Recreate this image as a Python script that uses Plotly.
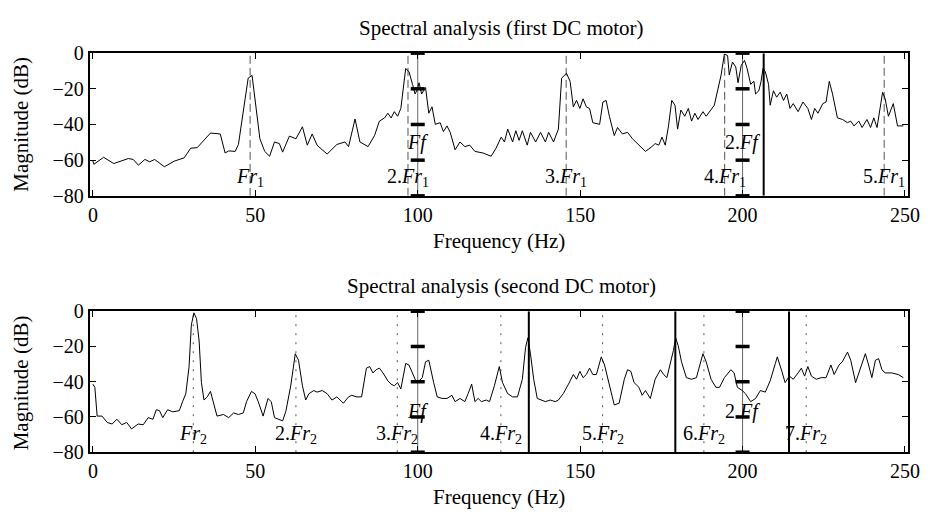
import plotly.graph_objects as go

# ---------------- data ----------------
top_freq = [0.0, 0.3, 3.3, 6.4, 10.9, 12.4, 14.0, 16.0, 17.5, 19.0, 22.0, 25.1, 28.1, 30.1, 32.1,
            36.2, 39.2, 40.7, 41.8, 43.8, 44.8, 46.3, 47.8, 49.0, 49.8, 51.4, 52.9, 54.4, 55.9,
            57.4, 58.4, 60.5, 62.5, 64.5, 66.0, 67.5, 69.0, 72.1, 75.1, 77.6, 78.7, 80.7, 82.2,
            84.7, 86.7, 88.2, 89.8, 90.8, 91.8, 92.8, 93.8, 94.8, 96.3, 97.3, 98.4, 99.2, 99.9,
            100.4, 101.2, 102.4, 103.4, 104.4, 105.4, 106.9, 107.9, 109.0, 110.0, 111.5, 113.0,
            114.5, 116.0, 117.6, 120.1, 122.6, 124.1, 125.7, 126.7, 127.7, 129.2, 130.2, 131.2,
            132.2, 133.7, 134.7, 136.3, 137.8, 139.3, 140.3, 141.8, 143.3, 144.3, 145.8, 146.9,
            147.9, 148.9, 149.9, 150.9, 151.9, 152.9, 153.9, 156.0, 157.0, 158.0, 159.0, 160.5,
            161.5, 163.0, 164.6, 166.1, 168.1, 170.1, 172.1, 173.1, 174.2, 175.2, 176.2, 177.2,
            178.2, 179.2, 180.0, 181.0, 182.2, 183.3, 184.3, 185.3, 186.3, 187.8, 188.8, 191.3,
            193.4, 194.4, 195.4, 195.9, 196.9, 197.9, 198.6, 199.6, 200.6, 201.4, 202.5, 203.5,
            204.0, 205.0, 205.7, 206.3, 207.0, 208.0, 208.5, 209.5, 210.5, 211.6, 212.6, 213.6,
            214.6, 215.6, 217.1, 218.6, 220.1, 221.2, 222.2, 223.2, 224.7, 225.7, 226.7, 227.7,
            229.2, 230.8, 232.3, 233.3, 234.3, 235.8, 236.8, 238.3, 239.4, 240.4, 241.4, 242.4,
            243.1, 243.9, 244.9, 246.4, 247.7, 249.5]
top_mag = [-60.5, -62.3, -58.4, -61.9, -59.1, -59.6, -62.8, -59.6, -60.9, -59.6, -63.7, -60.5,
           -58.7, -53.3, -53.0, -44.8, -45.3, -56.0, -54.8, -55.1, -51.2, -33.7, -14.0, -12.5,
           -24.7, -48.0, -55.1, -57.8, -49.8, -50.7, -55.5, -46.5, -48.0, -41.3, -51.6, -45.3,
           -51.6, -56.6, -51.2, -49.8, -52.4, -36.9, -49.8, -52.4, -46.2, -38.1, -36.3, -33.7,
           -36.3, -32.8, -35.4, -31.0, -8.6, -10.4, -17.5, -22.9, -20.2, -16.6, -22.9, -19.3,
           -33.7, -30.1, -39.9, -39.0, -44.0, -40.8, -44.4, -54.2, -49.8, -52.4, -51.6, -55.1,
           -56.0, -57.8, -53.3, -47.1, -49.8, -42.6, -49.8, -43.5, -48.9, -43.5, -51.6, -44.4,
           -49.8, -44.4, -49.8, -44.4, -49.8, -42.6, -14.0, -11.3, -15.8, -30.1, -26.5, -31.0,
           -25.6, -30.1, -31.0, -39.0, -39.9, -27.4, -26.5, -35.4, -46.2, -41.7, -45.3, -44.4,
           -48.0, -51.6, -55.1, -52.4, -50.7, -51.6, -47.1, -51.6, -40.8, -26.5, -29.2, -42.6,
           -31.9, -35.4, -31.0, -38.1, -33.7, -37.2, -32.8, -35.4, -29.2, -12.2, -0.5, -1.4,
           -12.2, -5.0, -7.7, -16.6, -6.8, -4.1, -8.6, -17.5, -15.8, -22.9, -21.1, -15.8, -8.6,
           -10.4, -17.5, -29.2, -21.1, -24.7, -21.9, -26.5, -22.9, -31.0, -28.3, -32.8, -27.4,
           -31.0, -37.2, -31.0, -33.7, -28.3, -27.4, -15.8, -22.9, -36.3, -37.2, -39.0, -38.1,
           -40.8, -38.1, -41.7, -37.2, -41.7, -36.3, -41.7, -30.1, -22.0, -25.6, -35.4, -28.3,
           -40.8, -40.8]

bot_freq = [0.0, 0.6, 1.3, 2.8, 4.4, 5.9, 7.4, 8.9, 10.4, 11.9, 13.9, 15.5, 17.0, 18.5, 19.5,
            20.5, 21.5, 23.0, 24.6, 26.6, 27.6, 28.6, 29.6, 30.3, 31.1, 31.9, 32.7, 33.4, 34.2,
            35.2, 36.2, 37.2, 38.2, 40.2, 41.8, 43.3, 44.8, 46.3, 47.3, 48.8, 49.9, 50.9, 52.4,
            53.9, 54.9, 55.9, 57.4, 58.4, 59.4, 60.9, 62.3, 63.3, 64.5, 65.5, 66.5, 68.0, 69.0,
            70.6, 72.1, 73.6, 75.1, 77.1, 78.7, 79.7, 81.2, 82.7, 84.2, 85.2, 86.2, 87.2, 88.2,
            89.3, 90.8, 91.8, 92.8, 93.8, 94.8, 96.3, 97.3, 98.4, 99.4, 100.4, 101.4, 102.4,
            103.4, 104.9, 106.0, 107.5, 109.0, 110.5, 111.5, 113.0, 114.5, 115.5, 116.6, 117.6,
            118.6, 119.6, 121.1, 122.1, 123.6, 125.1, 126.1, 127.7, 129.2, 130.7, 132.2, 133.2,
            133.9, 134.7, 135.7, 136.8, 137.8, 139.3, 140.8, 142.3, 143.3, 144.8, 146.4, 147.9,
            148.9, 149.9, 150.9, 151.9, 152.9, 153.9, 155.0, 156.5, 157.5, 158.5, 159.5, 160.5,
            162.0, 163.6, 164.6, 165.6, 166.6, 168.1, 169.1, 170.1, 171.6, 173.1, 174.7, 175.7,
            176.7, 177.7, 178.7, 179.4, 180.2, 181.2, 182.7, 184.3, 185.8, 187.8, 188.8, 190.3,
            191.8, 192.9, 194.4, 196.4, 197.4, 198.4, 199.9, 200.9, 202.5, 204.0, 205.5, 207.0,
            208.5, 210.1, 210.7, 212.1, 213.1, 214.4, 215.6, 217.1, 218.1, 219.1, 220.1, 221.2,
            222.7, 224.2, 225.7, 227.2, 228.2, 229.7, 230.7, 232.3, 233.3, 234.8, 235.8, 236.8,
            237.8, 238.8, 239.8, 240.9, 241.9, 242.9, 243.9, 245.9, 247.9, 249.5]
bot_mag = [-41.4, -43.2, -59.5, -59.5, -63.1, -64.0, -61.3, -64.4, -63.1, -66.8, -64.0, -64.4,
           -60.4, -61.3, -55.9, -56.4, -60.4, -55.9, -57.1, -56.4, -51.3, -46.8, -31.4, -7.8,
           -0.9, -4.2, -16.9, -40.5, -50.4, -48.6, -45.5, -53.2, -59.5, -58.6, -60.4, -57.7,
           -58.6, -57.7, -51.3, -45.5, -46.8, -51.3, -59.5, -49.5, -51.3, -60.4, -61.3, -62.2,
           -56.8, -42.3, -24.1, -27.8, -42.3, -50.4, -46.8, -45.0, -45.9, -45.0, -46.8, -50.4,
           -48.6, -52.2, -48.6, -47.7, -48.6, -48.6, -32.3, -31.4, -35.0, -33.2, -32.3, -35.0,
           -39.5, -41.4, -42.3, -40.5, -44.1, -29.6, -30.5, -35.0, -39.5, -39.5, -37.7, -28.7,
           -27.8, -40.5, -48.6, -49.5, -49.5, -47.7, -51.3, -49.5, -51.3, -46.8, -41.4, -51.3,
           -49.5, -51.3, -50.4, -51.3, -42.3, -31.4, -40.5, -46.8, -48.6, -48.6, -38.6, -20.5,
           -15.1, -24.1, -38.6, -49.5, -50.4, -51.3, -50.4, -51.3, -50.4, -46.8, -41.4, -35.9,
           -38.6, -34.1, -37.7, -35.9, -32.3, -35.9, -35.9, -25.9, -30.5, -37.7, -45.0, -53.2,
           -52.2, -38.6, -33.2, -34.1, -40.5, -43.2, -47.7, -45.0, -49.5, -38.6, -33.2, -35.9,
           -37.7, -30.5, -22.3, -15.1, -19.6, -28.7, -37.7, -38.6, -37.7, -24.1, -28.7, -38.6,
           -43.2, -43.2, -37.7, -33.2, -35.0, -43.2, -45.0, -46.8, -51.3, -49.5, -45.0, -45.9,
           -39.5, -29.6, -25.9, -34.1, -40.5, -36.8, -38.6, -35.0, -32.3, -36.8, -31.4, -36.8,
           -38.6, -37.7, -37.7, -30.5, -35.9, -30.5, -28.7, -23.2, -27.8, -40.5, -35.0, -29.6,
           -24.1, -30.5, -37.7, -27.8, -26.9, -33.2, -35.0, -35.0, -35.9, -37.7]

# harmonic reference lines and labels
top_harm = [48.4, 97.0, 145.7, 194.5, 243.6]
top_harm_labels = ["<i>Fr</i><sub>1</sub>", "2.<i>Fr</i><sub>1</sub>", "3.<i>Fr</i><sub>1</sub>",
                   "4.<i>Fr</i><sub>1</sub>", "5.<i>Fr</i><sub>1</sub>"]
bot_harm = [30.9, 62.5, 93.7, 125.6, 156.9, 188.1, 219.6]
bot_harm_labels = ["<i>Fr</i><sub>2</sub>", "2.<i>Fr</i><sub>2</sub>", "3.<i>Fr</i><sub>2</sub>",
                   "4.<i>Fr</i><sub>2</sub>", "5.<i>Fr</i><sub>2</sub>", "6.<i>Fr</i><sub>2</sub>",
                   "7.<i>Fr</i><sub>2</sub>"]
supply_freq = [100, 200]
supply_labels = ["<i>Ff</i>", "2.<i>Ff</i>"]
supply_marks = [0, -20, -40, -60, -80]
top_solid = [206.5]
bot_solid = [134.2, 179.3, 214.3]

x_ticks = [0, 50, 100, 150, 200, 250]
y_ticks = [0, -20, -40, -60, -80]

FONT = "Liberation Serif, Times New Roman, serif"
W, H = 935, 520

fig = go.Figure()


def vline(xv, xa, ya, color, width, dash):
    fig.add_trace(go.Scatter(x=[xv, xv], y=[-80, 0], mode="lines", xaxis=xa, yaxis=ya,
                             line=dict(color=color, width=width, dash=dash),
                             hoverinfo="skip", showlegend=False))


for panel, (xa, ya, harm, dash, solid) in enumerate([
        ("x", "y", top_harm, "8px,4px", top_solid),
        ("x2", "y2", bot_harm, "2px,7px", bot_solid)]):
    for h in harm:
        vline(h, xa, ya, "#555555", 1, dash)
    for f in supply_freq:
        fig.add_trace(go.Scatter(x=[f] * len(supply_marks), y=supply_marks, mode="lines+markers",
                                 xaxis=xa, yaxis=ya, line=dict(color="#666666", width=1),
                                 marker=dict(symbol="line-ew", size=10, color="black",
                                             line=dict(color="black", width=3.5)),
                                 cliponaxis=False, hoverinfo="skip", showlegend=False))
    for s in solid:
        vline(s, xa, ya, "black", 2, "solid")

fig.add_trace(go.Scatter(x=top_freq, y=top_mag, mode="lines", xaxis="x", yaxis="y",
                         line=dict(color="black", width=1), showlegend=False))
fig.add_trace(go.Scatter(x=bot_freq, y=bot_mag, mode="lines", xaxis="x2", yaxis="y2",
                         line=dict(color="black", width=1), showlegend=False))

# panel geometry (pixels)
xl, xr = 89, 920
top_t, top_b = 44, 193
bot_t, bot_b = 313.5, 460.7

ax_common = dict(showline=True, linecolor="black", linewidth=2, mirror="ticks",
                 ticks="inside", ticklen=6, tickwidth=1, tickcolor="black",
                 showgrid=False, zeroline=False,
                 tickfont=dict(family=FONT, size=20, color="black"))

fig.update_layout(
    width=W, height=H,
    margin=dict(l=0, r=0, t=0, b=0),
    paper_bgcolor="white", plot_bgcolor="white",
    font=dict(family=FONT, size=20, color="black"),
    xaxis=dict(domain=[xl / W, xr / W], range=[-1, 251], tickvals=x_ticks, anchor="y", **ax_common),
    yaxis=dict(domain=[1 - top_b / H, 1 - top_t / H], range=[-80, 0], tickvals=y_ticks,
               anchor="x", **ax_common),
    xaxis2=dict(domain=[xl / W, xr / W], range=[-1, 251], tickvals=x_ticks, anchor="y2", **ax_common),
    yaxis2=dict(domain=[1 - bot_b / H, 1 - bot_t / H], range=[-80, 0], tickvals=y_ticks,
                anchor="x2", **ax_common),
)

ann = []
# titles and axis labels
for txt, xp, yp, rot in [
        ("Spectral analysis (first DC motor)", 507, 18, 0),
        ("Frequency (Hz)", 505, 240, 0),
        ("Spectral analysis (second DC motor)", 507, 287, 0),
        ("Frequency (Hz)", 505, 507, 0),
        ("Magnitude (dB)", 19, 118, -90),
        ("Magnitude (dB)", 19, 388, -90)]:
    ann.append(dict(text=txt, x=xp / W, y=1 - yp / H, xref="paper", yref="paper",
                    showarrow=False, textangle=rot, xanchor="center", yanchor="middle",
                    font=dict(family=FONT, size=21, color="black")))

for h, lab in zip(top_harm, top_harm_labels):
    ann.append(dict(text=lab, x=h, y=-70, xref="x", yref="y", showarrow=False,
                    xanchor="center", yanchor="middle", font=dict(family=FONT, size=20)))
for h, lab in zip(bot_harm, bot_harm_labels):
    ann.append(dict(text=lab, x=h, y=-70, xref="x2", yref="y2", showarrow=False,
                    xanchor="center", yanchor="middle", font=dict(family=FONT, size=20)))
for f, lab in zip(supply_freq, supply_labels):
    ann.append(dict(text=lab, x=f, y=-50, xref="x", yref="y", showarrow=False,
                    xanchor="center", yanchor="middle", font=dict(family=FONT, size=20)))
    ann.append(dict(text=lab, x=f, y=-57, xref="x2", yref="y2", showarrow=False,
                    xanchor="center", yanchor="middle", font=dict(family=FONT, size=20)))

fig.update_layout(annotations=ann)
fig.write_html("out.html")
